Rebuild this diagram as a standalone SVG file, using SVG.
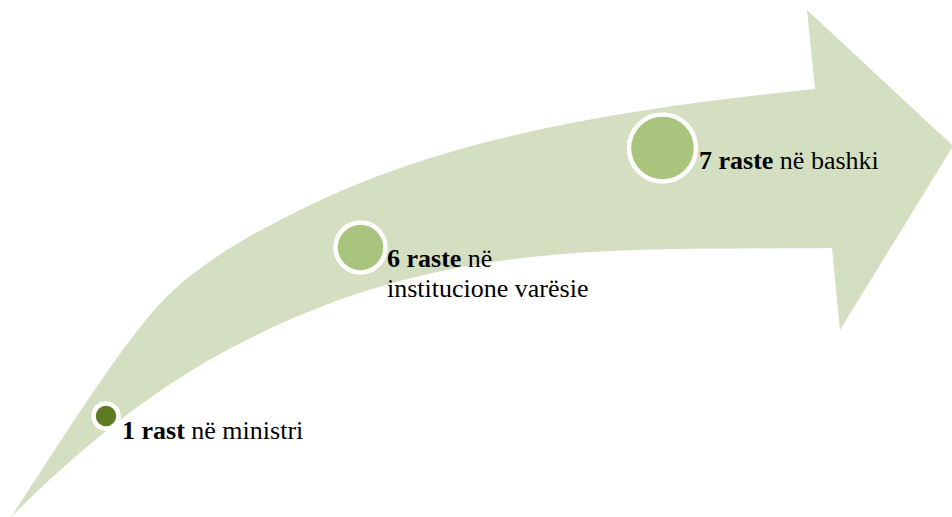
<svg xmlns="http://www.w3.org/2000/svg" width="952" height="517" viewBox="0 0 952 517">
  <style>
    .band { fill: #d3dfc0; }
    .dot { stroke: #ffffff; stroke-width: 4.5; }
    .dot-mid { fill: #a8c47d; }
    .dot-dark { fill: #5f7b23; }
    .label { font-family: 'Liberation Serif', 'Times New Roman', serif; font-size: 26px; fill: #000000; }
    .num { font-weight: bold; }
  </style>

  <!-- curved arrow: upper edge, arrowhead, lower edge back to the tail point -->
  <g id="connectors">
    <path class="band" d="M 11 517
      C 49.5 459, 105 369, 150 315
      C 189 268, 245.5 237, 300 210
      C 456 132, 641 107.5, 815 89
      L 807 10
      L 953 146
      L 840 330
      L 832 248
      C 600 250, 437 240, 233 347
      C 156 387, 82 446, 11 517 Z"/>
  </g>

  <g id="step-ministri">
    <circle class="dot dot-dark" cx="106" cy="416" r="12.5"/>
    <text class="label" x="122" y="439"><tspan class="num">1 rast</tspan> në ministri</text>
  </g>

  <g id="step-institucione">
    <circle class="dot dot-mid" cx="360.5" cy="247.5" r="25"/>
    <text class="label" x="387" y="267"><tspan class="num">6 raste</tspan> në</text>
    <text class="label" x="387" y="297">institucione varësie</text>
  </g>

  <g id="step-bashki">
    <circle class="dot dot-mid" cx="662.5" cy="148" r="33.5"/>
    <text class="label" x="699" y="169"><tspan class="num">7 raste</tspan> në bashki</text>
  </g>
</svg>
